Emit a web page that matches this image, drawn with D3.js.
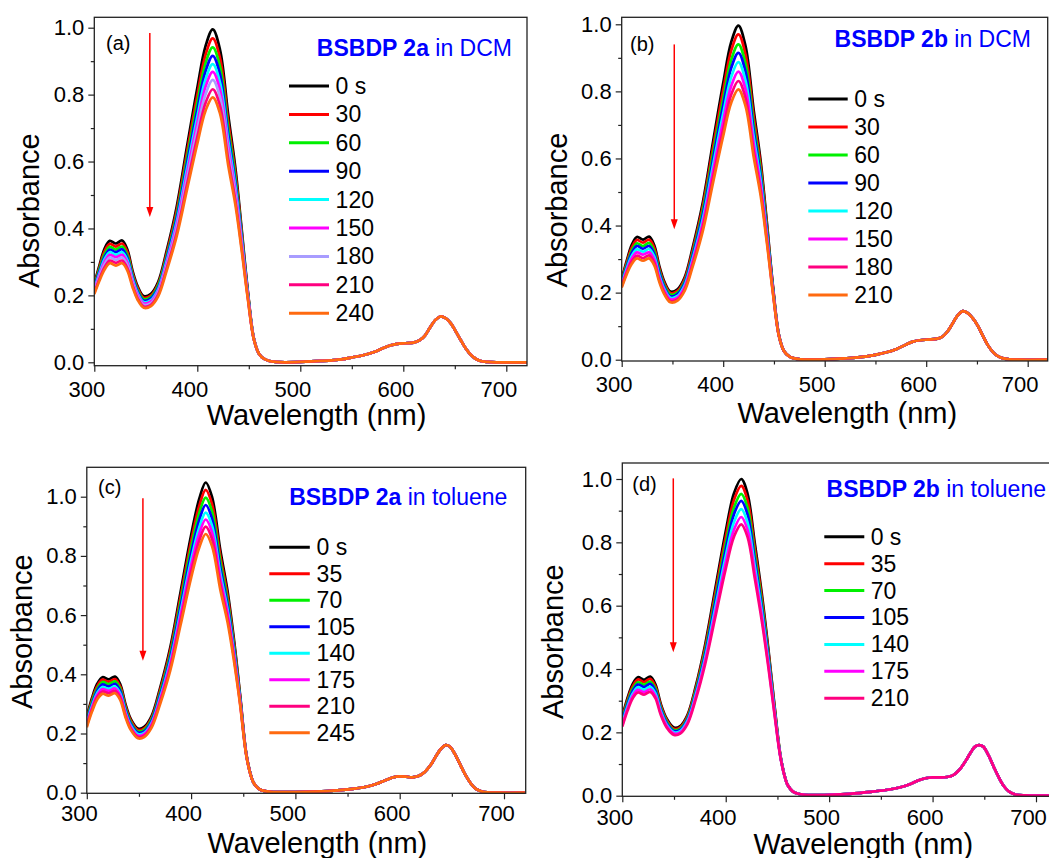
<!DOCTYPE html>
<html><head><meta charset="utf-8">
<script src="https://cdn.jsdelivr.net/npm/d3@7"></script>
<style>body{margin:0;background:#fff} svg{display:block} text{font-family:"Liberation Sans",Arial,sans-serif}</style>
</head><body><svg id="c" width="1049" height="858"></svg>
<script>
// ---------------- DATA ----------------
const xTicks = [300, 400, 500, 600, 700];
const yTicks = [0.0, 0.2, 0.4, 0.6, 0.8, 1.0];

// Panel (a): BSBDP 2a in DCM
const labelsA = ["0 s","30","60","90","120","150","180","210","240"];
const colorsA = ["#000000","#ff0000","#00f000","#0000ff","#00ffff","#ff00ff","#a89cff","#ff0080","#ff6a10"];
const waveA = [300,305,310,315,321,327,332,337,342,348,355,362,370,380,390,400,408,415,422,430,437,443,449,455];
const seriesA = [
 [.235,.290,.340,.363,.355,.364,.338,.275,.228,.198,.205,.240,.330,.465,.645,.820,.945,.995,.935,.740,.580,.400,.215,.070],
 [.231,.284,.332,.354,.346,.355,.330,.268,.223,.193,.200,.234,.322,.453,.628,.798,.919,.968,.910,.720,.565,.391,.212,.070],
 [.227,.278,.323,.345,.337,.346,.321,.262,.217,.189,.195,.229,.314,.441,.611,.776,.894,.941,.884,.700,.551,.383,.209,.069],
 [.223,.272,.315,.337,.329,.338,.313,.256,.212,.184,.191,.223,.307,.431,.595,.755,.870,.916,.861,.681,.537,.375,.206,.069],
 [.219,.266,.308,.329,.321,.329,.306,.250,.207,.180,.186,.218,.300,.420,.579,.734,.846,.891,.837,.663,.524,.367,.203,.068],
 [.216,.261,.301,.321,.314,.321,.299,.244,.202,.176,.182,.213,.293,.410,.564,.715,.824,.868,.815,.645,.511,.360,.200,.068],
 [.212,.256,.293,.313,.306,.313,.291,.239,.197,.172,.177,.208,.286,.400,.549,.696,.801,.844,.793,.628,.498,.352,.197,.068],
 [.208,.249,.284,.304,.297,.304,.282,.232,.192,.167,.172,.202,.278,.387,.531,.673,.775,.816,.767,.607,.483,.344,.194,.067],
 [.204,.244,.277,.296,.289,.296,.275,.226,.187,.163,.168,.197,.271,.377,.516,.653,.752,.792,.744,.589,.470,.336,.191,.067]
];
const tailWaveA = [460,465,470,476,485,500,520,540,551,561,571,580,587,594,602,610,616,621,626,631,636,641,646,651,656,661,666,671,676,682,690,720];
const tailA = [.025,.010,.004,.001,0,.001,.004,.009,.015,.021,.030,.042,.050,.055,.057,.059,.066,.080,.104,.126,.137,.132,.117,.092,.065,.040,.021,.009,.003,.001,0,0];

// Panel (b): BSBDP 2b in DCM
const labelsB = ["0 s","30","60","90","120","150","180","210"];
const colorsB = ["#000000","#ff0000","#00f000","#0000ff","#00ffff","#ff00ff","#ff0080","#ff6a10"];
const waveB = [300,305,310,315,321,327,332,337,342,348,355,362,370,380,390,400,408,415,422,430,437,443,449,455];
const seriesB = [
 [.240,.295,.343,.366,.358,.367,.342,.280,.233,.203,.210,.245,.335,.470,.650,.825,.948,.996,.935,.745,.590,.410,.220,.072],
 [.237,.290,.335,.357,.349,.358,.334,.273,.228,.199,.205,.240,.327,.459,.633,.803,.923,.970,.910,.726,.576,.402,.217,.072],
 [.233,.283,.326,.347,.339,.348,.324,.266,.222,.194,.200,.233,.318,.446,.614,.778,.895,.940,.882,.704,.560,.392,.214,.071],
 [.229,.278,.319,.339,.331,.339,.316,.260,.217,.189,.196,.228,.311,.434,.598,.758,.871,.915,.859,.685,.546,.384,.211,.071],
 [.226,.272,.310,.329,.322,.330,.308,.252,.211,.185,.190,.222,.302,.421,.580,.734,.844,.887,.832,.665,.531,.375,.207,.070],
 [.222,.266,.302,.320,.313,.320,.299,.245,.206,.180,.185,.216,.294,.409,.562,.711,.817,.859,.806,.644,.516,.366,.204,.070],
 [.218,.260,.294,.310,.303,.311,.290,.238,.200,.175,.180,.210,.286,.397,.544,.688,.791,.831,.780,.623,.501,.357,.201,.069],
 [.215,.255,.286,.302,.295,.302,.282,.232,.195,.171,.176,.205,.278,.385,.528,.667,.767,.806,.756,.605,.487,.349,.198,.069]
];
const tailWaveB = [460,465,470,476,485,500,520,540,551,561,571,580,587,594,602,610,616,621,626,631,636,641,646,651,656,661,666,671,676,682,690,720];
const tailB = [.025,.010,.004,.001,0,.001,.004,.009,.015,.022,.032,.045,.054,.058,.060,.062,.069,.084,.108,.132,.145,.139,.123,.100,.070,.042,.022,.010,.004,.001,0,0];

// Panel (c): BSBDP 2a in toluene
const labelsC = ["0 s","35","70","105","140","175","210","245"];
const colorsC = ["#000000","#ff0000","#00f000","#0000ff","#00ffff","#ff00ff","#ff0080","#ff6a10"];
const waveC = [300,305,310,315,321,327,332,337,342,349,355,362,370,380,390,400,408,414,420,428,435,441,447,453,458];
const seriesC = [
 [.257,.320,.368,.390,.383,.392,.367,.300,.250,.217,.222,.258,.350,.490,.680,.870,.995,1.048,1.000,.820,.680,.520,.330,.130,.050],
 [.252,.313,.360,.382,.375,.384,.359,.294,.245,.212,.217,.252,.342,.479,.664,.849,.971,1.023,.976,.801,.665,.509,.325,.129,.050],
 [.246,.307,.352,.374,.367,.376,.351,.287,.239,.207,.212,.247,.334,.467,.647,.828,.947,.997,.951,.781,.649,.499,.320,.128,.050],
 [.241,.300,.345,.366,.359,.368,.344,.281,.234,.203,.207,.241,.326,.456,.631,.807,.923,.972,.927,.761,.634,.488,.316,.127,.050],
 [.236,.293,.337,.357,.351,.359,.336,.274,.228,.198,.202,.235,.318,.444,.614,.786,.898,.946,.903,.741,.618,.477,.311,.126,.049],
 [.231,.287,.330,.350,.344,.352,.329,.268,.223,.193,.198,.230,.311,.434,.600,.767,.877,.923,.881,.724,.605,.468,.306,.126,.049],
 [.226,.281,.323,.342,.336,.344,.322,.262,.218,.189,.193,.225,.304,.423,.584,.747,.854,.899,.858,.705,.590,.458,.302,.125,.049],
 [.221,.274,.315,.334,.328,.336,.314,.256,.213,.184,.188,.219,.296,.412,.568,.726,.830,.874,.834,.686,.575,.447,.297,.124,.049]
];
const tailWaveC = [460,465,470,476,485,500,520,540,555,568,578,587,594,600,606,612,618,624,630,635,640,644,648,653,658,663,668,673,678,684,695,720];
const tailC = [.033,.013,.006,.003,.002,.002,.004,.008,.013,.020,.030,.043,.052,.055,.054,.052,.056,.070,.095,.125,.150,.161,.156,.130,.095,.060,.032,.013,.005,.001,0,0];

// Panel (d): BSBDP 2b in toluene
const labelsD = ["0 s","35","70","105","140","175","210"];
const colorsD = ["#000000","#ff0000","#00f000","#0000ff","#00ffff","#ff00ff","#ff0080"];
const waveD = [300,305,310,315,321,327,332,337,343,350,356,363,371,380,390,400,408,415,421,428,435,441,447,453,458];
const seriesD = [
 [.250,.308,.352,.374,.366,.376,.352,.292,.243,.215,.220,.255,.345,.475,.655,.835,.955,1.000,.955,.800,.635,.470,.290,.125,.050],
 [.245,.302,.345,.367,.359,.369,.345,.287,.239,.211,.216,.251,.339,.466,.641,.817,.934,.978,.934,.783,.622,.461,.286,.124,.050],
 [.239,.295,.337,.358,.351,.360,.338,.280,.234,.207,.212,.245,.332,.455,.625,.796,.910,.953,.910,.763,.607,.451,.280,.123,.050],
 [.235,.289,.330,.351,.343,.353,.331,.275,.229,.204,.208,.241,.325,.445,.612,.778,.889,.931,.889,.746,.593,.442,.276,.122,.050],
 [.229,.281,.322,.342,.335,.344,.323,.269,.224,.200,.204,.236,.318,.434,.595,.756,.864,.905,.864,.726,.578,.431,.271,.121,.049],
 [.223,.274,.314,.334,.327,.336,.315,.263,.220,.196,.200,.231,.311,.424,.579,.735,.840,.880,.840,.706,.563,.420,.266,.120,.049],
 [.218,.268,.307,.326,.319,.328,.308,.257,.215,.192,.196,.226,.304,.414,.565,.716,.818,.857,.818,.688,.549,.411,.261,.119,.049]
];
const tailWaveD = [460,465,470,476,485,500,520,540,555,568,578,586,593,600,607,614,620,626,632,637,641,645,649,654,659,664,669,674,680,690,720];
const tailD = [.033,.013,.006,.003,.002,.003,.006,.012,.018,.026,.036,.048,.055,.058,.058,.059,.065,.082,.110,.137,.155,.160,.155,.128,.092,.058,.030,.013,.004,.001,0];

// ---------------- LAYOUT ----------------
const panels = [
 {tag:"(a)", bold:"BSBDP 2a", rest:" in DCM", labels:labelsA, colors:colorsA, wave:waveA, series:seriesA, tailWave:tailWaveA, tail:tailA,
  L:{x0:94.3,x700:506.3,right:527,y0:362.3,y1:27.7,top:17.3,bottom:365.7, xLab:31,
     tagX:106,tagY:50, titleX:512,titleY:56, arrowX:353.9,arrowTop:0.984,arrowTip:0.434,
     legX1:289,legX2:329,legTX:335.6,legY:86,legDY:28.4, absX:39,absY:210.7, wlX:316.5,wlY:425}},
 {tag:"(b)", bold:"BSBDP 2b", rest:" in DCM", labels:labelsB, colors:colorsB, wave:waveB, series:seriesB, tailWave:tailWaveB, tail:tailB,
  L:{x0:621.7,x700:1027.7,right:1047.7,y0:359.7,y1:24.3,top:17.3,bottom:361, xLab:30.7,
     tagX:630,tagY:51, titleX:1031,titleY:46.5, arrowX:351.8,arrowTop:0.940,arrowTip:0.389,
     legX1:808.3,legX2:847.7,legTX:854.3,legY:99,legDY:28, absX:567,absY:210, wlX:847.3,wlY:423}},
 {tag:"(c)", bold:"BSBDP 2a", rest:" in toluene", labels:labelsC, colors:colorsC, wave:waveC, series:seriesC, tailWave:tailWaveC, tail:tailC,
  L:{x0:86.8,x700:504,right:525.7,y0:792.7,y1:496.7,top:467.3,bottom:793.3, xLab:27.6,
     tagX:98,tagY:494, titleX:507.4,titleY:505, arrowX:353.8,arrowTop:0.995,arrowTip:0.446,
     legX1:269.3,legX2:309.8,legTX:316.6,legY:547.3,legDY:26.5, absX:32,absY:631.7, wlX:317.4,wlY:853}},
 {tag:"(d)", bold:"BSBDP 2b", rest:" in toluene", labels:labelsD, colors:colorsD, wave:waveD, series:seriesD, tailWave:tailWaveD, tail:tailD,
  L:{x0:622.3,x700:1036,right:1062,y0:795.7,y1:479,top:463,bottom:796.3, xLab:28.5,
     tagX:632.3,tagY:491, titleX:1046,titleY:497, arrowX:349.3,arrowTop:1.002,arrowTip:0.453,
     legX1:824.3,legX2:864.3,legTX:870.7,legY:536.7,legDY:26.93, absX:562.7,absY:641.7, wlX:863.3,wlY:854}}
];

// ---------------- DRAW ----------------
const svg = d3.select("#c");
svg.append("rect").attr("width",1049).attr("height",858).attr("fill","#fff");
const FONT = '"Liberation Sans", Arial, sans-serif';

panels.forEach((p, pi) => {
  const L = p.L;
  const x = d3.scaleLinear().domain([300,700]).range([L.x0, L.x700]);
  const y = d3.scaleLinear().domain([0,1]).range([L.y0, L.y1]);
  const g = svg.append("g");

  const clipId = "clip" + pi;
  svg.append("clipPath").attr("id", clipId).append("rect")
    .attr("x", L.x0).attr("y", L.top).attr("width", L.right - L.x0).attr("height", L.bottom - L.top);

  const line = d3.line().x(d => x(d[0])).y(d => y(d[1])).curve(d3.curveCatmullRom.alpha(0.5));
  const lg = g.append("g").attr("clip-path", `url(#${clipId})`);
  p.series.forEach((s, i) => {
    const pts = p.wave.map((w, j) => [w, s[j]]).concat(p.tailWave.map((w, j) => [w, p.tail[j]]));
    lg.append("path").attr("d", line(pts)).attr("fill", "none")
      .attr("stroke", p.colors[i]).attr("stroke-width", 2.7).attr("stroke-linejoin", "round");
  });

  // frame
  g.append("rect").attr("x", L.x0).attr("y", L.top).attr("width", L.right - L.x0).attr("height", L.bottom - L.top)
    .attr("fill", "none").attr("stroke", "#222").attr("stroke-width", 1.3);

  const xMinor = [350,450,550,650].filter(v => x(v) < L.right - 1);
  const yMinor = [0.1,0.3,0.5,0.7,0.9,1.1].filter(v => y(v) > L.top + 1);

  // x axis (baseline of labels L.xLab px below the axis line)
  const xa = g.append("g").attr("transform", `translate(0,${L.bottom})`)
    .call(d3.axisBottom(x).tickValues(xTicks).tickSize(6).tickSizeOuter(0).tickPadding(L.xLab - 6 - 15.6).tickFormat(d3.format("d")));
  xa.select(".domain").remove();
  xa.attr("font-size", 22).attr("font-family", FONT);
  xa.selectAll("line").attr("stroke", "#222").attr("stroke-width", 1.2);
  xa.selectAll("text").attr("fill", "#000").attr("dx", -8);
  const xm = g.append("g").attr("transform", `translate(0,${L.bottom})`)
    .call(d3.axisBottom(x).tickValues(xMinor).tickSize(3.5).tickSizeOuter(0).tickFormat(""));
  xm.select(".domain").remove();
  xm.selectAll("line").attr("stroke", "#222").attr("stroke-width", 1.2);

  // y axis
  const ya = g.append("g").attr("transform", `translate(${L.x0},0)`)
    .call(d3.axisLeft(y).tickValues(yTicks).tickSize(6).tickSizeOuter(0).tickPadding(4).tickFormat(d3.format(".1f")));
  ya.select(".domain").remove();
  ya.attr("font-size", 22).attr("font-family", FONT);
  ya.selectAll("line").attr("stroke", "#222").attr("stroke-width", 1.2);
  ya.selectAll("text").attr("fill", "#000");
  const ym = g.append("g").attr("transform", `translate(${L.x0},0)`)
    .call(d3.axisLeft(y).tickValues(yMinor).tickSize(3.5).tickSizeOuter(0).tickFormat(""));
  ym.select(".domain").remove();
  ym.selectAll("line").attr("stroke", "#222").attr("stroke-width", 1.2);

  // axis titles
  g.append("text").attr("transform", `translate(${L.absX},${L.absY}) rotate(-90)`)
    .attr("text-anchor", "middle").attr("font-size", 29).attr("fill", "#000").text("Absorbance");
  g.append("text").attr("x", L.wlX).attr("y", L.wlY)
    .attr("text-anchor", "middle").attr("font-size", 29).attr("fill", "#000").text("Wavelength (nm)");

  // panel tag
  g.append("text").attr("x", L.tagX).attr("y", L.tagY).attr("font-size", 20).attr("fill", "#000").text(p.tag);

  // title
  const t = g.append("text").attr("x", L.titleX).attr("y", L.titleY).attr("text-anchor", "end")
    .attr("font-size", 23).attr("fill", "#0000ff");
  t.append("tspan").attr("font-weight", "bold").text(p.bold);
  t.append("tspan").text(p.rest);

  // red arrow
  const ax = x(L.arrowX), ay1 = y(L.arrowTop), ay2 = y(L.arrowTip);
  g.append("line").attr("x1", ax).attr("x2", ax).attr("y1", ay1).attr("y2", ay2 - 8)
    .attr("stroke", "#ff0000").attr("stroke-width", 1.5);
  g.append("path").attr("d", `M${ax - 3.5},${ay2 - 10} L${ax + 3.5},${ay2 - 10} L${ax},${ay2} Z`).attr("fill", "#ff0000");

  // legend
  p.labels.forEach((lab, i) => {
    const ly = L.legY + i * L.legDY;
    g.append("line").attr("x1", L.legX1).attr("x2", L.legX2).attr("y1", ly).attr("y2", ly)
      .attr("stroke", p.colors[i]).attr("stroke-width", 3);
    g.append("text").attr("x", L.legTX).attr("y", ly + 8).attr("font-size", 23).attr("fill", "#000").text(lab);
  });
});
</script>
</body></html>
